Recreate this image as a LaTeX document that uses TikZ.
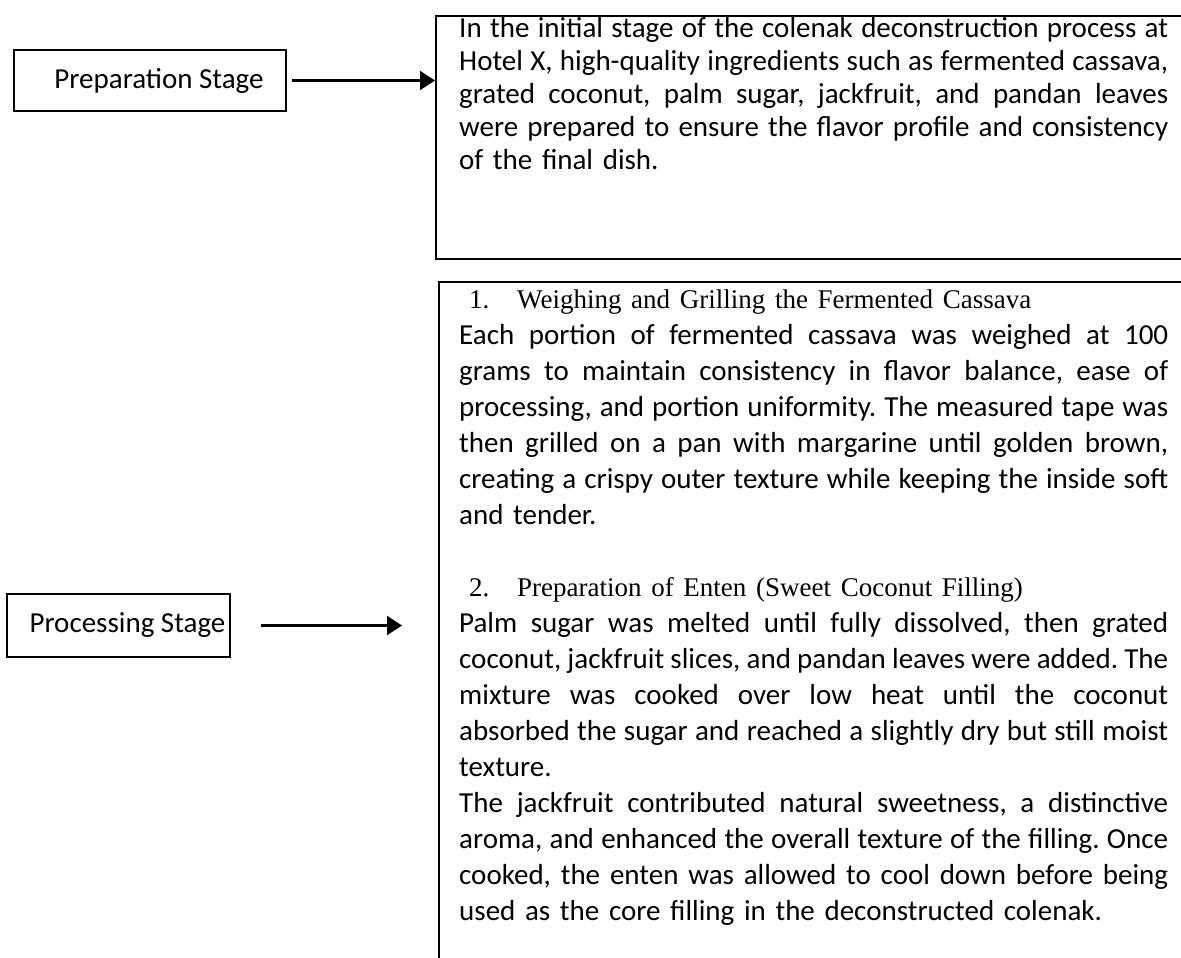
\documentclass[tikz,border=0pt]{standalone}
\usepackage{fontspec}
\setmainfont{Carlito}
\newfontfamily\headfont{Liberation Serif}
\usetikzlibrary{arrows.meta,positioning}
\frenchspacing

\newlength{\bodywidth}
\setlength{\bodywidth}{709pt}
\newcommand{\jline}[1]{\makebox[\bodywidth][s]{\spaceskip=0pt\xspaceskip=0pt #1}}

\begin{document}
\begin{tikzpicture}[x=1pt, y=-1pt, >={Triangle[length=15pt,width=19pt]},
    stage/.style={draw, line width=1.8pt, inner sep=0pt, font=\fontsize{29}{35}\selectfont},
    panel/.style={draw, line width=2pt, anchor=north west, inner sep=0pt, minimum width=800pt},
    body/.style={anchor=north west, inner sep=0pt, text width=\bodywidth}]
    % Page
    \useasboundingbox (0,0) rectangle (1181,958);
    \clip (0,0) rectangle (1181,958);

    % Stage boxes
    \node[stage, minimum width=272pt, minimum height=61pt] (prep) at (150,80.5) {\hspace*{18pt}Preparation Stage};
    \node[stage, minimum width=223pt, minimum height=63pt] (proc) at (118.5,625.5) {\hspace*{18pt}Processing Stage};

    % Description boxes
    \node[panel, minimum height=243pt] (descA) at (435,15) {};
    \node[panel, minimum height=720pt] (descB) at (438,281) {};

    % Text of the first box
    \node[body, font=\fontsize{29}{33}\selectfont] (textA) at (459,14) {%
        \noindent\strut\jline{In the initial stage of the colenak deconstruction process at}\\
        \jline{Hotel X, high-quality ingredients such as fermented cassava,}\\
        \jline{grated coconut, palm sugar, jackfruit, and pandan leaves}\\
        \jline{were prepared to ensure the flavor profile and consistency}\\
        of the final dish.};

    % Text of the second box
    \node[body, font=\fontsize{29}{36}\selectfont] (textB) at (459,283) {%
        \noindent{\headfont\fontsize{27}{36}\selectfont\strut\hspace*{10pt}\makebox[48pt][l]{1.}Weighing and Grilling the Fermented Cassava}\\
        \jline{Each portion of fermented cassava was weighed at 100}\\
        \jline{grams to maintain consistency in flavor balance, ease of}\\
        \jline{processing, and portion uniformity. The measured tape was}\\
        \jline{then grilled on a pan with margarine until golden brown,}\\
        \jline{creating a crispy outer texture while keeping the inside soft}\\
        and tender.\\
        \mbox{}\\
        {\headfont\fontsize{27}{36}\selectfont\strut\hspace*{10pt}\makebox[48pt][l]{2.}Preparation of Enten (Sweet Coconut Filling)}\\
        \jline{Palm sugar was melted until fully dissolved, then grated}\\
        \jline{coconut, jackfruit slices, and pandan leaves were added. The}\\
        \jline{mixture was cooked over low heat until the coconut}\\
        \jline{absorbed the sugar and reached a slightly dry but still moist}\\
        texture.\\
        \jline{The jackfruit contributed natural sweetness, a distinctive}\\
        \jline{aroma, and enhanced the overall texture of the filling. Once}\\
        \jline{cooked, the enten was allowed to cool down before being}\\
        used as the core filling in the deconstructed colenak.};

    % Arrows
    \draw[->, line width=2.2pt] ([xshift=5pt]prep.east) -- (prep.east -| descA.west);
    \draw[->, line width=2.2pt] ([xshift=30pt]proc.east) -- ([xshift=-36pt]proc.east -| descB.west);
\end{tikzpicture}
\end{document}
